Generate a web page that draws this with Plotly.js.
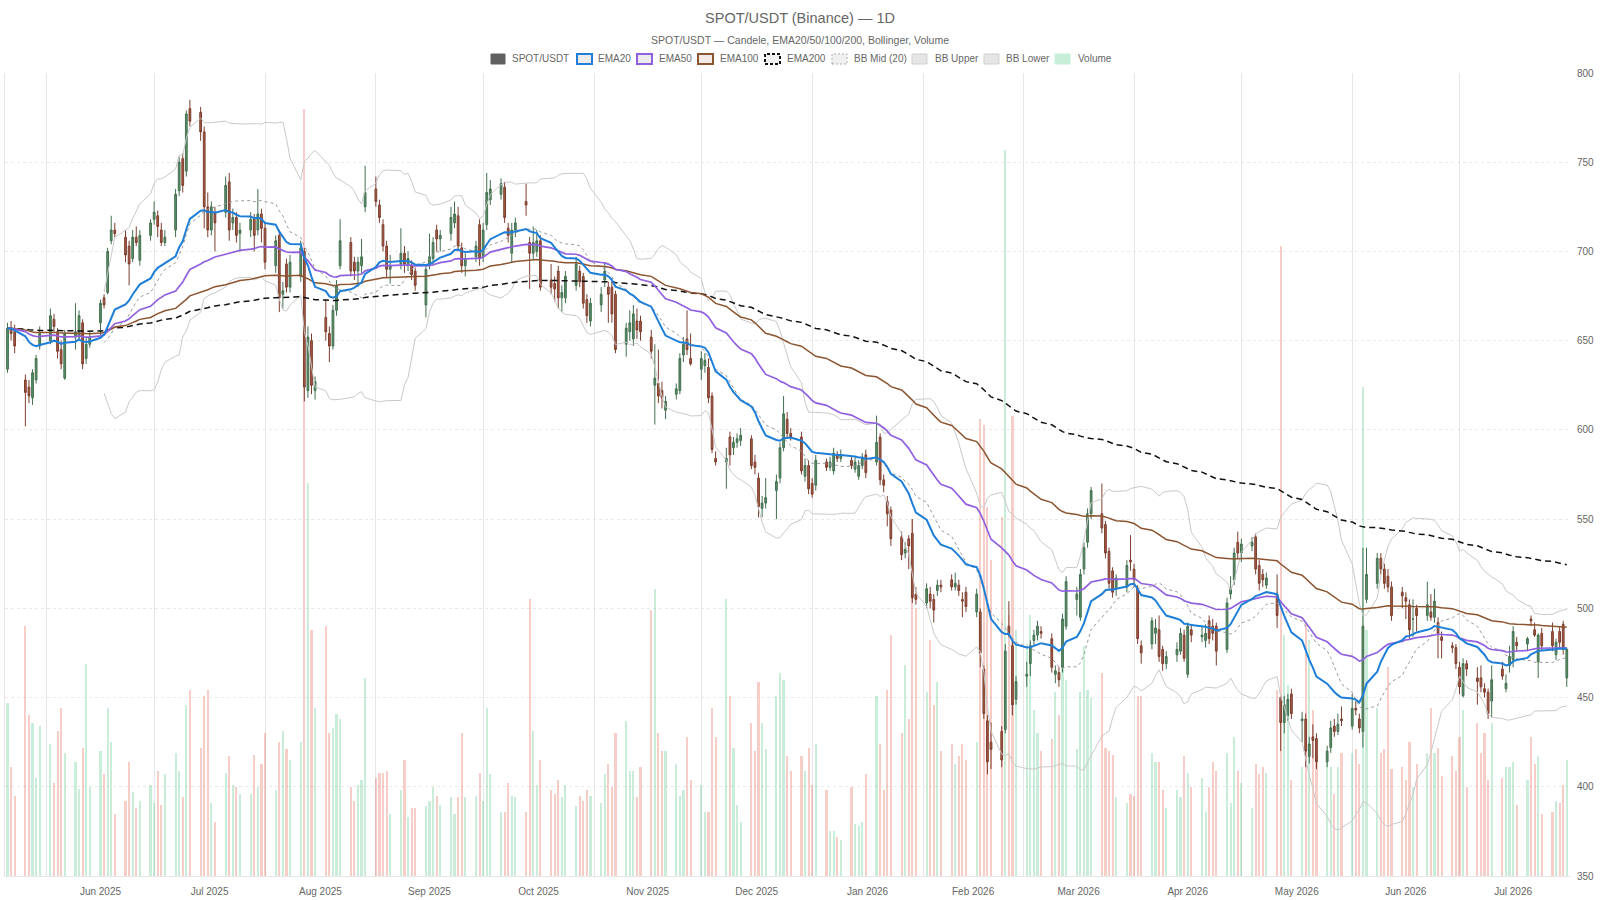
<!DOCTYPE html>
<html>
<head>
<meta charset="utf-8">
<script src="https://cdn.plot.ly/plotly-3.0.1.min.js"></script>
<style>html,body{margin:0;padding:0;background:#fff;}#chart{width:1600px;height:900px;}</style>
</head>
<body>
<div id="chart"></div>
<script>
// ---- DATA (business days starting 2025-05-21) ----
const startDate = "2025-05-21";
const openV = [
 634,657,655,
 628,624,618,628,647, 650,662,655,645,629, 652,652,660,640,648, 660,674,677,706,712, 708,703,696,708,695,
 709,718,720,712,705, 712,734,752,745,780, 778,767,725,712,722, 722,739,716,719,710, 712,718,712,721,713,
 692,709,676,693,680, 686,700,622,650,622, 663,654,647,667,692, 705,694,689,692,725, 735,726,715,703,690,
 693,699,692,692,689, 670,693,696,712,707, 710,716,720,702,692, 697,715,697,715,729, 732,736,713,699,712,
 728,705,699,700,706, 684,682,689,674,674, 681,689,686,673,661, 670,684,680,680,676, 648,655,651,661,661,
 652,625,626,622,611, 620,622,642,651,640, 634,636,635,619,584, 582,596,590,593,594, 595,582,573,556,559,
 566,573,590,606,598, 596,574,580,570,569, 582,579,577,586,584, 583,578,574,580,586, 582,596,572,560,555,
 540,531,539,542,508, 503,508,505,510,513, 516,512,513,505,509, 498,498,466,437,425, 431,432,490,479,449,
 462,469,482,485,487, 483,463,464,467,490, 505,495,522,537,553, 553,547,532,521,511, 512,527,522,511,479,
 480,486,488,477,469, 474,476,485,463,488, 484,482,493,490,490, 477,508,516,537,531, 535,540,524,519,513,
 508,450,436,440,452, 437,438,417,428,427, 414,422,434,431,438, 434,444,438,431,505, 514,528,522,518,512,
 509,506,502,494,500, 496,498,495,492,484, 479,478,467,451,469, 461,461,455,453,448, 466,455,468,471,481,
 480,494,488,470,486, 487,474,487,491,461
];
const highV = [
 660,661,659,
 631,628,634,642,658, 668,665,657,650,656, 671,667,662,652,655, 673,676,702,720,716, 712,706,712,714,712,
 718,728,723,716,712, 735,753,755,779,785, 781,770,733,728,725, 742,744,724,722,716, 722,721,735,724,716,
 709,712,683,696,698, 706,702,658,654,630, 673,658,670,684,718, 708,697,697,707,748, 742,729,718,706,698,
 713,703,700,695,691, 693,710,708,715,712, 725,728,725,705,699, 706,718,716,744,740, 741,739,716,716,719,
 738,708,714,712,709, 693,686,692,681,689, 697,692,688,676,674, 680,694,683,683,678, 660,667,670,668,664,
 656,648,645,627,619, 626,643,652,667,654, 644,643,640,621,588, 590,599,596,598,601, 597,586,576,563,573,
 575,593,619,610,601, 599,584,583,573,586, 584,585,590,588,589, 585,585,583,587,589, 608,598,575,563,557,
 543,537,541,550,512, 514,512,508,516,516, 519,520,516,509,512, 511,500,468,440,436, 434,480,504,482,462,
 470,482,488,493,490, 486,468,467,497,518, 512,522,537,556,568, 570,549,534,523,519, 527,541,525,513,482,
 495,494,496,479,476, 481,489,488,492,491, 490,491,496,494,492, 506,518,534,543,539, 540,542,527,522,520,
 519,451,451,452,455, 442,441,428,435,430, 423,437,438,441,445, 452,448,441,534,534, 531,531,525,522,515,
 512,509,505,505,502, 515,508,511,495,487, 481,480,470,472,471, 467,468,458,455,468, 470,463,479,490,484,
 484,496,492,486,489, 492,483,490,493,478
];
const lowV = [
 632,650,643,
 602,615,614,626,645, 648,655,640,634,628, 645,650,634,637,646, 653,668,676,704,708, 694,681,694,703,692,
 706,715,708,703,703, 708,731,733,742,770, 762,713,708,709,700, 719,706,712,705,700, 708,700,709,705,690,
 688,666,668,677,677, 683,616,618,620,617, 650,638,645,664,690, 686,684,680,688,722, 725,716,700,685,682,
 690,688,689,684,678, 663,690,692,700,700, 706,713,700,688,686, 694,692,694,712,726, 729,716,705,694,708,
 720,679,695,697,678, 676,672,668,666,671, 678,680,668,660,658, 666,680,660,660,643, 641,650,647,651,650,
 640,603,615,612,606, 617,620,638,642,636, 628,632,615,587,580, 567,580,586,590,591, 578,575,551,551,556,
 550,570,588,595,594, 575,571,564,562,566, 577,577,575,582,582, 578,576,572,578,573, 580,569,565,546,535,
 527,528,522,503,502, 500,500,492,507,509, 510,510,507,495,498, 495,467,438,407,410, 411,430,484,440,446,
 456,462,479,482,483, 464,458,456,464,488, 496,493,519,534,550, 542,528,511,506,507, 509,521,512,480,469,
 477,480,470,465,466, 470,474,470,461,481, 481,478,480,482,468, 475,505,513,528,526, 532,519,510,512,511,
 489,420,430,437,438, 425,411,413,416,410, 411,419,428,429,434, 432,440,430,422,503, 511,519,511,509,493,
 500,494,483,484,487, 493,493,492,472,472, 475,466,452,450,462, 446,453,450,438,439, 460,453,464,467,476,
 476,490,484,461,476, 476,471,478,474,456
];
const closeV = [
 657,654,647,
 621,619,632,640,654, 664,658,644,637,654, 655,664,637,648,652, 671,670,700,712,710, 698,693,708,705,709,
 716,722,714,705,708, 732,750,737,777,773, 767,725,712,725,716, 737,712,719,709,712, 718,709,721,713,694,
 706,674,678,680,694, 702,624,652,625,627, 655,647,667,681,706, 689,689,694,697,733, 728,719,703,690,692,
 699,693,696,687,681, 690,697,705,707,709, 719,721,703,692,696, 703,696,712,733,735, 738,719,709,712,716,
 726,699,705,706,680, 680,679,674,677,686, 693,683,671,664,671, 676,689,676,665,645, 657,660,665,656,655,
 644,629,619,618,616, 623,640,648,645,637, 640,639,618,589,582, 584,586,593,595,597, 580,579,557,559,562,
 571,590,609,598,596, 577,580,567,564,583, 579,582,587,584,586, 580,582,580,584,576, 593,572,569,553,539,
 530,533,535,506,505, 511,504,499,513,512, 512,514,510,504,501, 508,475,441,414,421, 415,476,486,446,459,
 463,479,485,490,486, 467,465,460,494,515, 508,519,534,553,566, 545,531,514,509,517, 524,526,516,483,475,
 493,489,473,469,473, 477,486,472,490,485, 485,486,483,486,476, 503,511,531,531,536, 537,522,514,516,517,
 496,436,446,449,441, 438,420,424,426,414, 420,433,431,435,437, 444,443,433,490,519, 528,522,514,512,496,
 507,504,488,494,496, 502,495,504,486,482, 478,469,456,469,466, 459,456,453,441,460, 462,458,473,487,479,
 483,493,485,485,479, 479,481,481,477,477
];
const volumeV = [
 970,610,450,
 1400,900,860,550,840, 740,520,810,940,690, 640,490,720,1190,500, 700,570,940,750,350, 420,640,470,380,420,
 510,410,590,400,570, 690,590,440,960,1040, 720,1010,1040,410,300, 580,670,510,500,460, 460,680,500,630,800,
 480,750,810,710,650, 750,4300,2200,1380,940, 1400,800,830,910,880, 500,420,510,540,1110, 550,580,580,590,350,
 480,650,330,380,380, 390,420,500,450,400, 440,350,440,800,440, 450,580,420,940,570, 360,360,520,450,440,
 360,1550,810,510,650, 480,460,540,440,510, 390,450,420,480,450, 410,570,630,500,800, 870,590,590,440,610,
 1490,1610,800,700,700, 630,450,480,780,540, 510,360,360,940,780, 1550,1010,720,400,300, 860,700,1090,860,710,
 1010,1140,1100,670,590, 670,590,720,510,740, 480,250,250,220,200, 500,290,280,300,570, 1010,740,480,1040,1350,
 800,1180,880,2000,1500, 1030,1320,960,1090,700, 740,630,670,740,650, 750,2560,2530,2070,1770, 2010,4070,1460,2580,1380,
 1300,1460,930,800,700, 770,1030,900,1170,1100, 710,1030,1290,1040,1000, 1140,720,700,680,440, 410,460,450,1010,1010,
 690,640,640,480,380, 480,440,670,580,500, 550,360,500,640,590, 690,410,780,590,520, 380,630,570,610,580,
 1040,3530,1350,1070,540, 610,1420,1320,930,690, 680,610,460,610,690, 690,710,630,2740,1380, 940,690,710,1170,600,
 610,540,750,500,630, 690,940,690,720,560, 670,590,780,930,500, 860,690,800,540,860, 550,610,610,640,400,
 540,780,630,670,350, 360,420,410,510,650
];
const legendLabels = ["SPOT/USDT","EMA20","EMA50","EMA100","EMA200","BB Mid (20)","BB Upper","BB Lower","Volume"];
const titleText = "SPOT/USDT (Binance) — 1D";
const subtitleText = "SPOT/USDT — Candele, EMA20/50/100/200, Bollinger, Volume";

// ---- dates: weekdays ----
function businessDays(start, n){
  const out=[]; const d=new Date(start+"T00:00:00Z");
  while(out.length<n){ const wd=d.getUTCDay(); if(wd!==0&&wd!==6) out.push(d.toISOString().slice(0,10)); d.setUTCDate(d.getUTCDate()+1); }
  return out;
}
const N = closeV.length;
const dates = businessDays(startDate, N);

// ---- indicators from closes ----
function ema(vals, n){ const a=2/(n+1); const out=[]; let e=vals[0]; for(let i=0;i<vals.length;i++){ e = i===0? vals[0] : a*vals[i]+(1-a)*e; out.push(e);} return out; }
function boll(vals, n, k){ const mid=[],up=[],lo=[]; for(let i=0;i<vals.length;i++){ if(i<n-1){mid.push(null);up.push(null);lo.push(null);continue;} let s=0; for(let j=i-n+1;j<=i;j++) s+=vals[j]; const m=s/n; let v=0; for(let j=i-n+1;j<=i;j++) v+=(vals[j]-m)*(vals[j]-m); const sd=Math.sqrt(v/n); mid.push(m); up.push(m+k*sd); lo.push(m-k*sd);} return {mid,up,lo}; }
const ema20=ema(closeV,20), ema50=ema(closeV,50), ema100=ema(closeV,100), ema200=ema(closeV,200);
const bb=boll(closeV,20,2);

const volColors = closeV.map((c,i)=> c>=openV[i] ? 'rgba(60,190,120,0.28)' : 'rgba(230,90,70,0.30)');
const DAY=86400000;

const traces = [
 {type:'bar', x:dates, y:volumeV, yaxis:'y', marker:{color:volColors, line:{width:0}}, width:dates.map(()=>0.6*DAY), showlegend:false, hoverinfo:'skip'},
 {type:'scatter', mode:'lines', x:dates, y:bb.up, yaxis:'y2', line:{color:'#c9c9c9', width:1}, showlegend:false, connectgaps:false, hoverinfo:'skip'},
 {type:'scatter', mode:'lines', x:dates, y:bb.lo, yaxis:'y2', line:{color:'#c9c9c9', width:1}, showlegend:false, hoverinfo:'skip'},
 {type:'scatter', mode:'lines', x:dates, y:bb.mid, yaxis:'y2', line:{color:'#9a9a9a', width:1, dash:'3px,3px'}, showlegend:false, hoverinfo:'skip'},
 {type:'candlestick', x:dates, open:openV, high:highV, low:lowV, close:closeV, yaxis:'y2', showlegend:false,
   increasing:{line:{color:'#43704f', width:1}, fillcolor:'#5c906a'},
   decreasing:{line:{color:'#7d3f2f', width:1}, fillcolor:'#a65a44'}, whiskerwidth:0},
 {type:'scatter', mode:'lines', x:dates, y:ema200, yaxis:'y2', line:{color:'#111', width:1.5, dash:'6px,4px'}, showlegend:false, hoverinfo:'skip'},
 {type:'scatter', mode:'lines', x:dates, y:ema100, yaxis:'y2', line:{color:'#8b5530', width:1.5}, showlegend:false, hoverinfo:'skip'},
 {type:'scatter', mode:'lines', x:dates, y:ema50, yaxis:'y2', line:{color:'#9060e0', width:1.7}, showlegend:false, hoverinfo:'skip'},
 {type:'scatter', mode:'lines', x:dates, y:ema20, yaxis:'y2', line:{color:'#1f7fd8', width:2}, showlegend:false, hoverinfo:'skip'}
];

// ---- layout geometry ----
const ML=5, MR=30, MT=73, MB=24, W=1600-ML-MR, H=900-MT-MB;
const px2x = p => (p-ML)/W;
const py2y = p => (900-MB-p)/H;
const first = new Date(dates[0]+"T00:00:00Z").getTime();
const last = new Date(dates[N-1]+"T00:00:00Z").getTime();
const xr = [new Date(first-0.7*DAY).toISOString(), new Date(last+0.9*DAY).toISOString()];

// custom Chart.js-like legend
const legendBoxes = [
 {x0:491,x1:505, tx:510, fill:'#606060', line:'#606060', dash:'solid', w:1},
 {x0:577,x1:592, tx:596, fill:'rgba(0,0,0,0.08)', line:'#1f7fd8', dash:'solid', w:2},
 {x0:637,x1:652, tx:657, fill:'rgba(0,0,0,0.08)', line:'#9060e0', dash:'solid', w:2},
 {x0:698,x1:713, tx:718, fill:'rgba(139,85,48,0.12)', line:'#8b5530', dash:'solid', w:2},
 {x0:765,x1:780, tx:785, fill:'rgba(0,0,0,0.06)', line:'#111', dash:'3px,2px', w:2},
 {x0:832,x1:847, tx:852, fill:'rgba(0,0,0,0.06)', line:'#aaa', dash:'2px,2px', w:1},
 {x0:912,x1:927, tx:933, fill:'rgba(0,0,0,0.10)', line:'#d0d0d0', dash:'solid', w:1},
 {x0:984,x1:999, tx:1004, fill:'rgba(0,0,0,0.10)', line:'#d0d0d0', dash:'solid', w:1},
 {x0:1055,x1:1070, tx:1076, fill:'#c6eed8', line:'#c6eed8', dash:'solid', w:1}
];
const shapes=[], annotations=[];
legendBoxes.forEach((b,i)=>{
  shapes.push({type:'rect', xref:'paper', yref:'paper', x0:px2x(b.x0), x1:px2x(b.x1), y0:py2y(64), y1:py2y(54), fillcolor:b.fill, line:{color:b.line, width:b.w, dash:b.dash}, layer:'above'});
  annotations.push({xref:'paper', yref:'paper', x:px2x(b.tx), y:py2y(59), xanchor:'left', yanchor:'middle', text:legendLabels[i], showarrow:false, font:{size:10, color:'#666'}});
});
annotations.push({xref:'paper', yref:'paper', x:px2x(800), y:py2y(40), xanchor:'center', yanchor:'middle', text:subtitleText, showarrow:false, font:{size:10.5, color:'#666'}});

const layout = {
  width:1600, height:900,
  margin:{l:ML, r:MR, t:MT, b:MB},
  paper_bgcolor:'#fff', plot_bgcolor:'#fff',
  font:{family:'"Liberation Sans", Arial, Helvetica, sans-serif', color:'#666', size:10},
  title:{text:titleText, x:0.5, xanchor:'center', y:1-17.5/900, yanchor:'middle', yref:'container', font:{size:14.5, color:'#666'}},
  showlegend:false,
  bargap:0,
  xaxis:{type:'date', range:xr, rangeslider:{visible:false}, showgrid:true, gridcolor:'#e6e6e6', gridwidth:1,
         dtick:'M1', tick0:'2025-06-01', ticklabelmode:'period', tickformat:'%b %Y', ticks:'', ticklabelstandoff:6,
         tickfont:{size:10, color:'#666'}, showline:true, linecolor:'#e6e6e6', zeroline:false},
  yaxis:{range:[0,4500], showgrid:false, zeroline:false, showticklabels:false, ticks:'', showline:true, linecolor:'#e6e6e6', fixedrange:true},
  yaxis2:{overlaying:'y', side:'right', range:[350,800], dtick:50, tick0:350, showgrid:true, gridcolor:'#e9e9e9', griddash:'dot', gridwidth:1,
          zeroline:false, ticks:'', ticklabelstandoff:6, tickfont:{size:10, color:'#666'}, showline:false},
  shapes:shapes, annotations:annotations
};
Plotly.newPlot('chart', traces, layout, {staticPlot:true, displayModeBar:false});
</script>
</body>
</html>
